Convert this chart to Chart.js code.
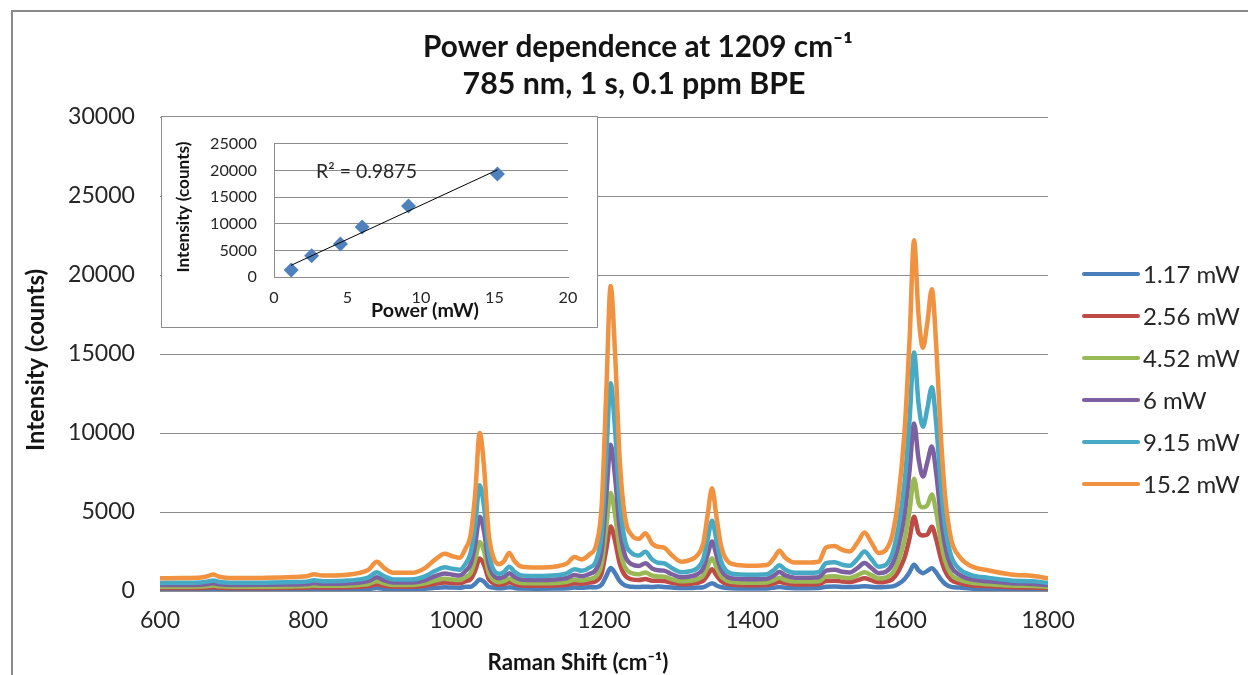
<!DOCTYPE html>
<html><head><meta charset="utf-8">
<script src="https://cdn.jsdelivr.net/npm/chart.js@4.4.0/dist/chart.umd.min.js"></script>
<style>
html,body{margin:0;padding:0;background:#fff;}
#wrap{position:relative;width:1248px;height:675px;overflow:hidden;background:#fff;}
#main{position:absolute;left:0;top:0;}
#inset{position:absolute;left:161px;top:116px;width:435px;height:210px;border:1px solid #8c8c8c;background:#fff;}
#insetc{display:block;}
</style></head><body>
<div id="wrap"><canvas id="main" width="1248" height="675"></canvas>
<div id="inset"><canvas id="insetc" width="435" height="210"></canvas></div></div>
<script>
// ---------- data ----------
const shift = [600,630,655,665,672,680,700,740,780,800,
808,820,850,870,882,893,903,915,940,958,
972,985,995,1005,1013,1020,1026,1032,1038,1044,
1050,1058,1065,1072,1079,1088,1110,1135,1150,1160,
1170,1180,1190,1197,1203,1209,1215,1221,1228,1238,
1247,1256,1265,1273,1281,1292,1305,1316,1326,1334,
1340,1346,1352,1358,1366,1380,1400,1420,1430,1437,
1445,1458,1475,1490,1500,1512,1522,1532,1543,1552,
1561,1571,1581,1590,1598,1606,1613,1619,1625,1631,
1637,1643,1649,1655,1661,1669,1680,1695,1720,1750,
1780,1800];

const s117 = [80,82,85,95,105,90,82,83,88,95,
106,98,102,115,135,185,145,115,115,145,
200,235,220,210,270,270,465,720,585,280,
220,170,190,240,190,155,148,155,175,215,
200,230,240,410,940,1450,1125,640,360,265,
250,275,250,280,250,215,185,195,215,240,
360,490,350,250,195,165,160,165,210,255,
210,180,180,185,275,285,260,250,270,300,
270,240,260,290,450,750,1200,1660,1310,1130,
1275,1440,1160,750,450,260,220,160,130,105,
95,80];

const s256 = [185,190,195,220,240,205,190,190,200,220,
245,225,235,265,310,425,335,265,265,335,
460,540,505,485,620,755,1300,2050,1640,775,
505,390,435,550,435,355,340,355,400,495,
460,530,650,1155,2625,4080,3150,1785,1010,735,
695,765,650,645,630,520,425,450,520,650,
1010,1370,990,650,450,380,370,380,485,585,
485,415,415,425,630,655,600,575,690,800,
690,550,600,760,1260,2100,3360,4700,3680,3520,
3570,4070,3250,2100,1260,700,505,370,300,240,
220,185];

const s452 = [265,270,280,315,345,300,270,275,290,315,
350,325,335,380,445,610,480,380,380,480,
660,775,725,695,890,1150,1980,3100,2500,1185,
725,560,625,790,625,510,490,510,580,710,
660,760,960,1760,4000,6200,4800,2720,1540,1120,
1055,1170,970,925,910,740,610,645,740,970,
1540,2080,1500,950,645,545,530,545,695,840,
695,595,595,610,910,940,860,825,1010,1190,
1010,790,860,1150,1920,3200,5120,7100,5600,5300,
5440,6100,4960,3200,1920,1060,725,530,430,345,
315,265];

const s6 = [380,385,400,445,495,425,385,390,415,445,
500,460,480,540,635,870,680,540,540,680,
940,1105,1035,985,1270,1730,2980,4700,3740,1775,
1035,800,895,1130,895,730,695,730,820,1010,
940,1080,1420,2640,6000,9250,7200,4080,2300,1680,
1585,1750,1430,1315,1290,1060,870,915,1060,1430,
2300,3130,2260,1370,915,775,750,775,985,1200,
985,845,845,870,1290,1340,1220,1175,1470,1770,
1470,1130,1220,1720,2880,4800,7680,10600,8400,7250,
8160,9150,7440,4800,2880,1580,1035,750,610,495,
445,380];

const s915 = [510,525,545,610,670,575,525,530,565,610,
680,625,655,735,865,1185,930,735,735,930,
1280,1505,1410,1345,1730,2450,4220,6700,5300,2515,
1410,1090,1215,1540,1215,990,945,990,1120,1375,
1280,1470,2000,3740,8500,13150,10200,5780,3260,2380,
2245,2480,2000,1790,1760,1440,1185,1250,1440,2000,
3260,4450,3200,1900,1250,1055,1025,1055,1345,1630,
1345,1150,1150,1185,1760,1825,1665,1600,2050,2500,
2050,1540,1665,2430,4080,6800,10900,15100,11900,10400,
11560,12900,10540,6800,4080,2240,1410,1025,830,670,
610,510];

const s152 = [800,820,850,950,1050,900,820,830,880,950,
1060,980,1020,1150,1350,1850,1450,1150,1150,1450,
2000,2350,2200,2100,2700,3600,6200,10000,7800,3700,
2200,1700,1900,2400,1900,1550,1480,1550,1750,2150,
2000,2300,3000,5500,12500,19300,15000,8500,4800,3500,
3300,3650,3000,2800,2750,2250,1850,1950,2250,3000,
4800,6500,4700,2900,1950,1650,1600,1650,2100,2550,
2100,1800,1800,1850,2750,2850,2600,2500,3100,3700,
3100,2400,2600,3600,6000,10000,16000,22200,17500,15400,
17000,19100,15500,10000,6000,3300,2200,1600,1300,1050,
950,800];

const seriesLabels = ['1.17 mW','2.56 mW','4.52 mW','6 mW','9.15 mW','15.2 mW'];
const seriesValues = [s117, s256, s452, s6, s915, s152];
const seriesColors = ['#4A7EBB','#BE4B48','#98B954','#7D60A0','#46AAC5','#F09240'];

const xTickStep = 200, xMin = 600, xMax = 1800;
const yTickStep = 5000, yMin = 0, yMax = 30000;

// inset data
const power = [1.17, 2.56, 4.52, 6, 9.15, 15.2];
const peakIntensity = [1300, 4000, 6200, 9400, 13300, 19300];
const trendPower = [1.17, 15.2];
const trendIntensity = [2200, 20100];
const insetXStep = 5, insetXMin = 0, insetXMax = 20;
const insetYStep = 5000, insetYMin = 0, insetYMax = 25000;

const title1 = 'Power dependence at 1209 cm\u207B\u00B9';
const title2 = '785 nm, 1 s, 0.1 ppm BPE';
const xTitle = 'Raman Shift (cm\u207B\u00B9)';
const yTitle = 'Intensity (counts)';
const insetXTitle = 'Power (mW)';
const insetYTitle = 'Intensity (counts)';
const r2Text = 'R\u00B2 = 0.9875';

// ---------- font sizing ----------
const FONT = 'Lato, "Open Sans", sans-serif';
const mctx = document.createElement('canvas').getContext('2d');
function fit(text, weight, width){ mctx.font = weight + ' 100px ' + FONT; return 100 * width / mctx.measureText(text).width; }

const szT1 = fit(title1, 'bold', 430);
const szT2 = fit(title2, 'bold', 343);
const szTick = fit('30000', 'normal', 67);
const szXT = fit(xTitle, 'bold', 181);
const szYT = fit(yTitle, 'bold', 182);
const szLeg = fit('1.17 mW', 'normal', 97);
const szITick = fit('25000', 'normal', 47);
const szIYT = fit(insetYTitle, 'bold', 131);
const szIXT = fit(insetXTitle, 'bold', 108);
const szR2 = fit(r2Text, 'normal', 101);

Chart.defaults.font.family = FONT;
const plainTick = v => String(v);

// ---------- main chart ----------
const decor = {
  id: 'decor',
  afterDraw(chart){
    const c = chart.ctx;
    c.save();
    c.strokeStyle = '#8a8a8a'; c.lineWidth = 2;
    c.beginPath(); c.moveTo(12, 680); c.lineTo(12, 11); c.lineTo(1260, 11); c.stroke();
    c.fillStyle = '#141414'; c.textAlign = 'center'; c.textBaseline = 'middle';
    c.font = 'bold ' + szT1 + 'px ' + FONT; c.fillText(title1, 638, 47);
    c.font = 'bold ' + szT2 + 'px ' + FONT; c.fillText(title2, 634, 84);
    c.font = 'bold ' + szXT + 'px ' + FONT; c.fillText(xTitle, 578, 663);
    c.save(); c.translate(36, 360); c.rotate(-Math.PI/2);
    c.font = 'bold ' + szYT + 'px ' + FONT; c.fillText(yTitle, 0, 0); c.restore();
    c.textAlign = 'left';
    c.font = szLeg + 'px ' + FONT;
    seriesLabels.forEach((lab, i) => {
      const y = 274 + 42 * i;
      c.strokeStyle = seriesColors[i]; c.lineWidth = 4; c.lineCap = 'round';
      c.beginPath(); c.moveTo(1084, y); c.lineTo(1138, y); c.stroke();
      c.fillStyle = '#262626'; c.fillText(lab, 1143, y + 1);
    });
    c.restore();
  }
};

new Chart(document.getElementById('main'), {
  type: 'line',
  data: {
    datasets: seriesLabels.map((lab, i) => ({
      label: lab,
      data: shift.map((x, j) => ({x: x, y: seriesValues[i][j]})),
      borderColor: seriesColors[i],
      backgroundColor: seriesColors[i],
      borderWidth: 4.5,
      pointRadius: 0,
      cubicInterpolationMode: 'monotone',
      borderJoinStyle: 'round',
      borderCapStyle: 'round',
      order: seriesLabels.length - 1 - i
    }))
  },
  options: {
    responsive: false, animation: false, devicePixelRatio: 1,
    layout: {padding: {left: 0, top: 117, right: 200, bottom: 0}},
    plugins: {legend: {display: false}, tooltip: {enabled: false}, title: {display: false}},
    scales: {
      x: {
        type: 'linear', min: xMin, max: xMax,
        ticks: {stepSize: xTickStep, color: '#262626', font: {size: szTick}, padding: 30 - 0.6 * szTick, maxRotation: 0, callback: plainTick},
        grid: {display: false, drawTicks: false},
        border: {display: false},
        afterFit: s => { s.height = 84; }
      },
      y: {
        min: yMin, max: yMax,
        ticks: {stepSize: yTickStep, color: '#262626', font: {size: szTick}, padding: 25, callback: plainTick},
        grid: {color: '#8c8c8c', lineWidth: 1, drawTicks: false},
        border: {display: false},
        afterFit: s => { s.width = 160; }
      }
    }
  },
  plugins: [decor]
});

// ---------- inset chart ----------
const insetDecor = {
  id: 'insetDecor',
  afterDraw(chart){
    const c = chart.ctx;
    c.save();
    c.fillStyle = '#141414'; c.textAlign = 'center'; c.textBaseline = 'middle';
    c.font = 'bold ' + szIXT + 'px ' + FONT; c.fillText(insetXTitle, 263, 194);
    c.save(); c.translate(21, 90); c.rotate(-Math.PI/2);
    c.font = 'bold ' + szIYT + 'px ' + FONT; c.fillText(insetYTitle, 0, 0); c.restore();
    c.textAlign = 'left'; c.fillStyle = '#262626';
    c.font = szR2 + 'px ' + FONT; c.fillText(r2Text, 154, 55);
    c.restore();
  }
};

new Chart(document.getElementById('insetc'), {
  type: 'scatter',
  data: {
    datasets: [
      {
        type: 'line',
        data: trendPower.map((x, i) => ({x: x, y: trendIntensity[i]})),
        borderColor: '#000', borderWidth: 1, pointRadius: 0, order: 0
      },
      {
        data: power.map((x, i) => ({x: x, y: peakIntensity[i]})),
        pointStyle: 'rectRot', pointRadius: 7.5,
        backgroundColor: '#4F81BD', borderColor: '#4F81BD', borderWidth: 0, order: 1
      }
    ]
  },
  options: {
    responsive: false, animation: false, devicePixelRatio: 1,
    layout: {padding: {left: 0, top: 11, right: 29, bottom: 0}},
    plugins: {legend: {display: false}, tooltip: {enabled: false}},
    scales: {
      x: {
        type: 'linear', min: insetXMin, max: insetXMax,
        ticks: {stepSize: insetXStep, color: '#262626', font: {size: szITick}, padding: 21 - 0.6 * szITick, maxRotation: 0, callback: plainTick},
        grid: {display: false, drawTicks: false},
        border: {display: true, color: '#8c8c8c'},
        afterFit: s => { s.height = 50; }
      },
      y: {
        min: insetYMin, max: insetYMax,
        ticks: {stepSize: insetYStep, color: '#262626', font: {size: szITick}, padding: 17, callback: plainTick},
        grid: {color: '#8c8c8c', drawTicks: false},
        border: {display: true, color: '#8c8c8c'},
        afterFit: s => { s.width = 112; }
      }
    }
  },
  plugins: [insetDecor]
});
</script>
</body></html>
